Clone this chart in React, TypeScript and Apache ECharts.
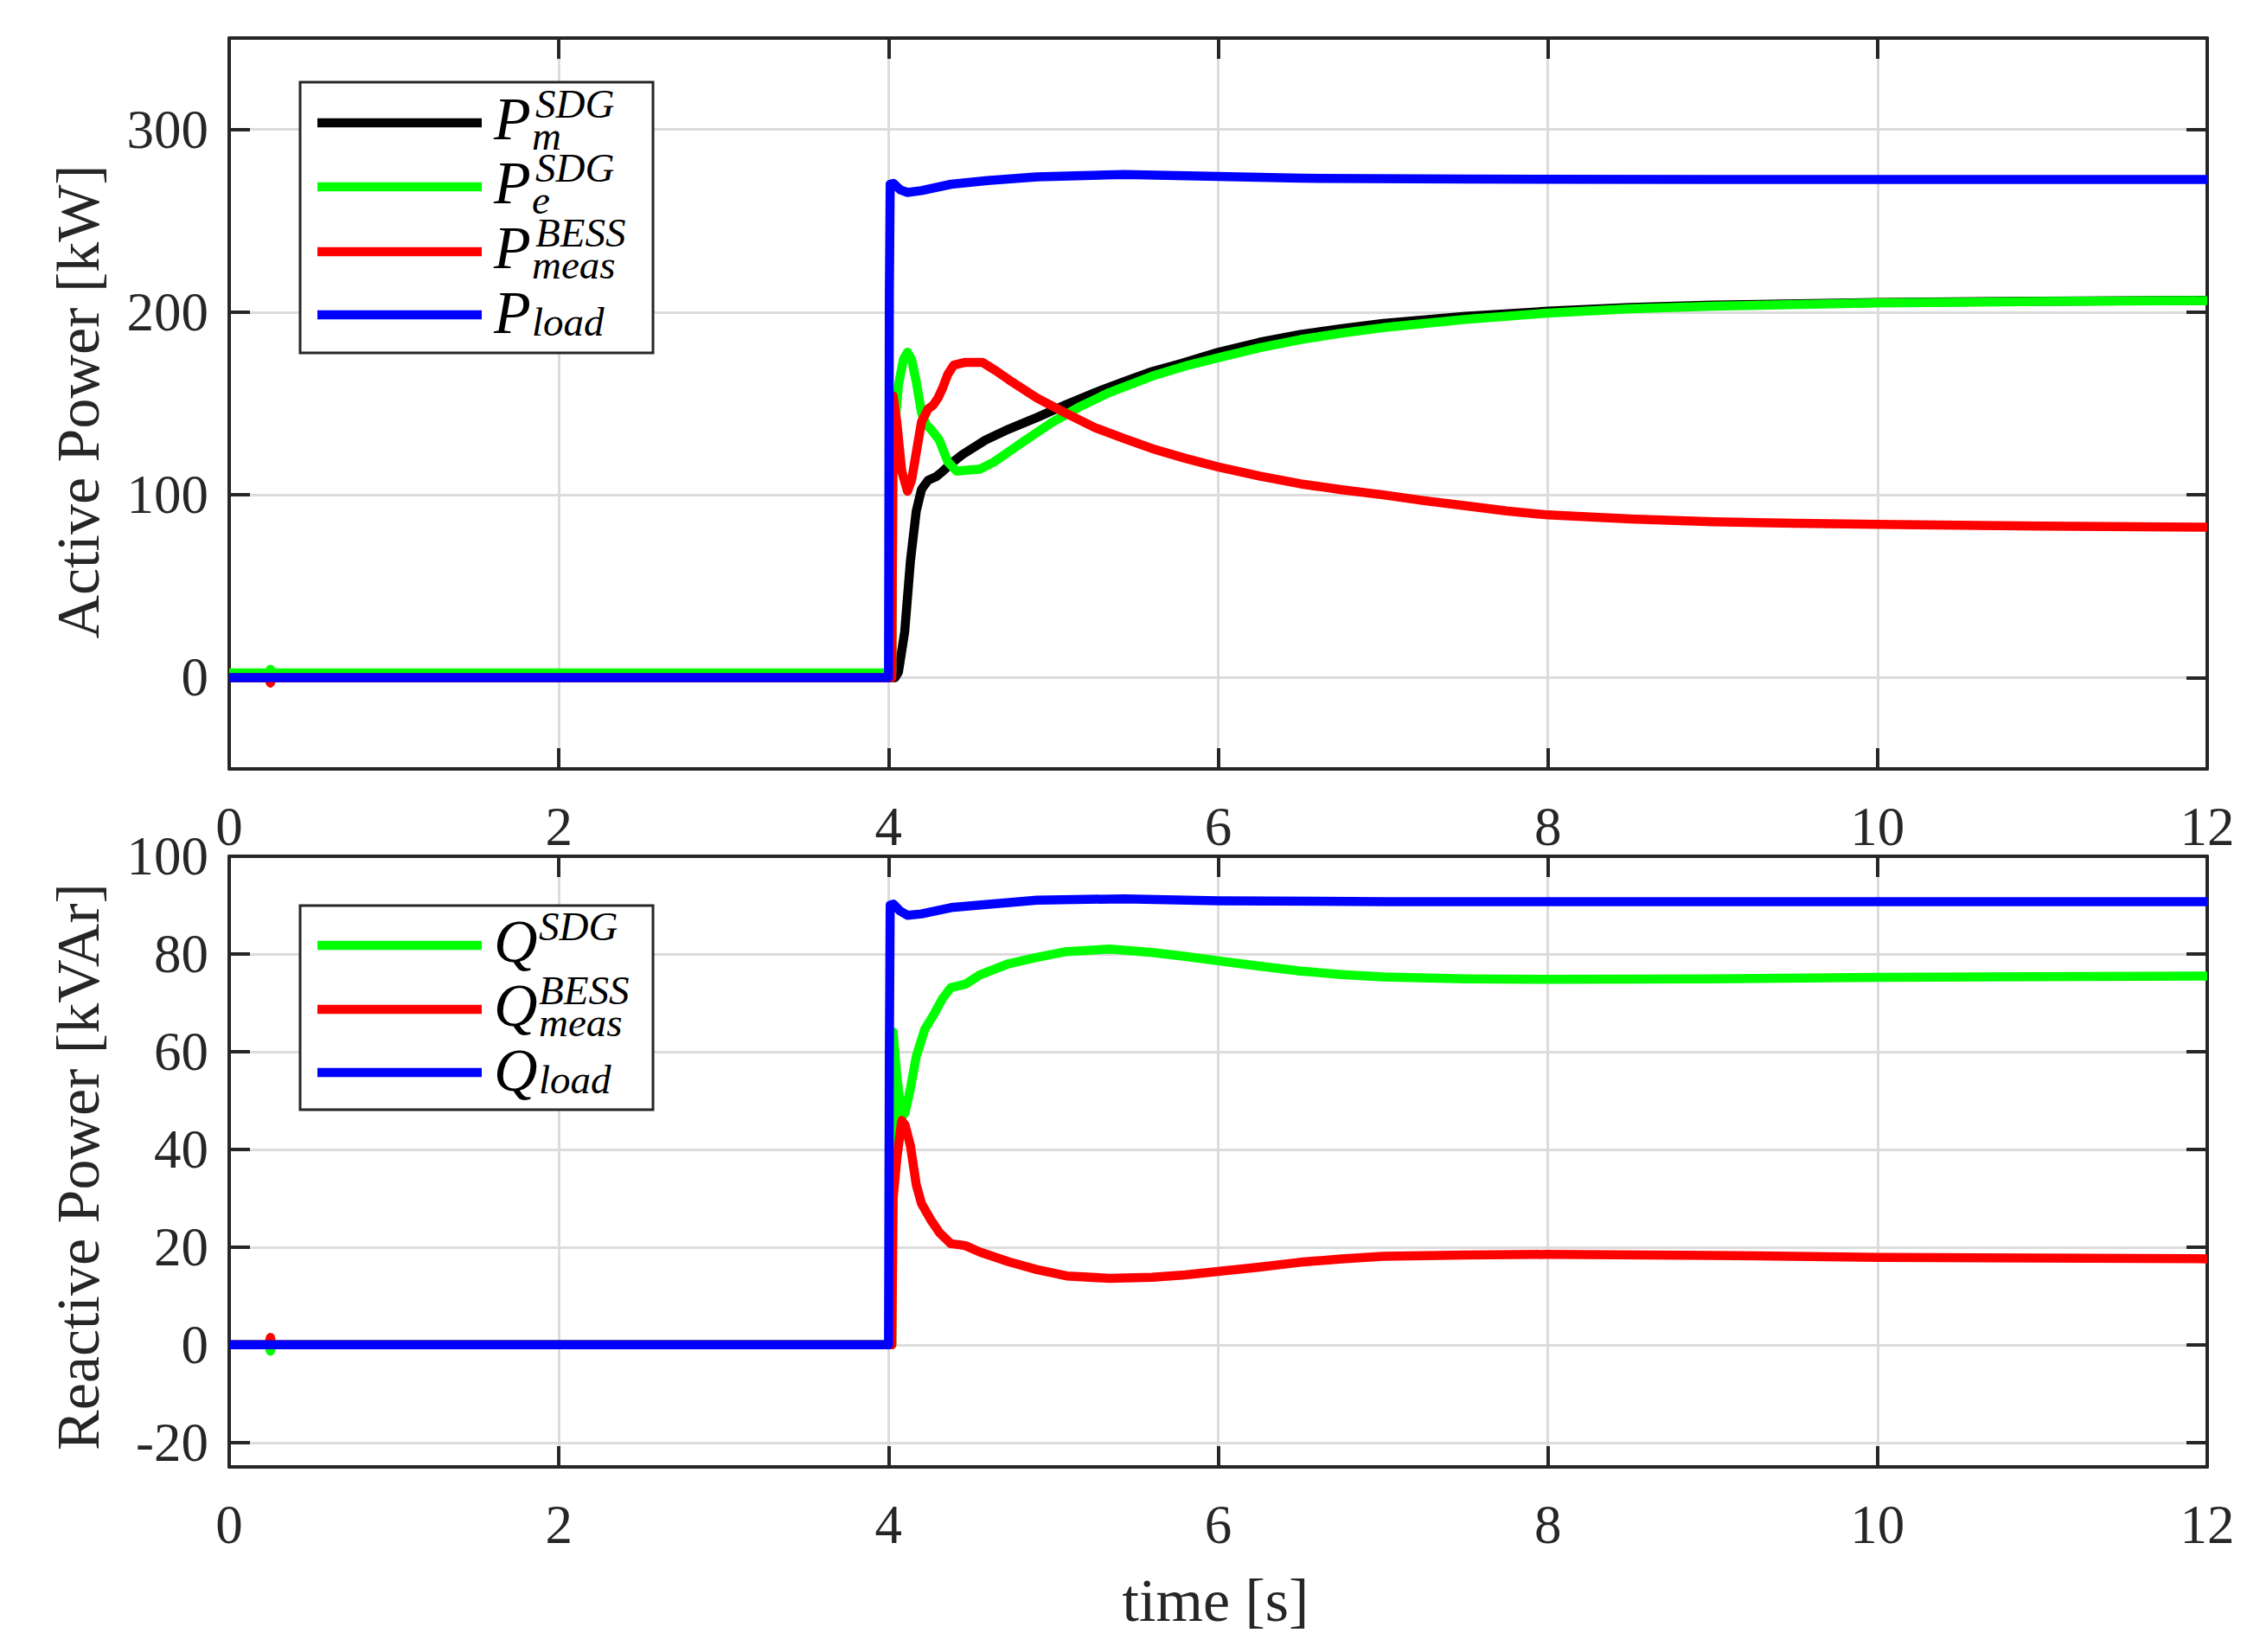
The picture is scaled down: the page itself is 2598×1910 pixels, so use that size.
import React, { useEffect, useRef } from "react";
import * as echarts from "echarts";

// ---------- data (time [s], value) ----------
const xTicks = [0, 2, 4, 6, 8, 10, 12];
const pTicks = [0, 100, 200, 300];
const qTicks = [-20, 0, 20, 40, 60, 80, 100];

const pMechSDG: [number, number][] = [
  [0, 0], [4.04, 0], [4.06, 3], [4.098, 25], [4.133, 64], [4.168, 91], [4.2, 103], [4.24, 108],
  [4.29, 110], [4.33, 113], [4.378, 117], [4.448, 122], [4.588, 130], [4.73, 136], [4.904, 142.5],
  [5.08, 149.5], [5.254, 156], [5.43, 162], [5.6, 167.5], [5.78, 172], [6.0, 178], [6.25, 183.5],
  [6.5, 187.8], [6.75, 191], [7.0, 193.8], [7.5, 197.7], [8.0, 200.5], [8.5, 202.5], [9.0, 203.8],
  [10.0, 205.3], [11.0, 206], [12.0, 206.5],
];
const pElecSDG: [number, number][] = [
  [0, 2.5], [0.24, 2.5], [0.25, 4.5], [0.26, 2.5], [4.02, 2.5], [4.028, 127], [4.06, 160], [4.09, 174],
  [4.115, 178], [4.14, 174], [4.168, 162], [4.2, 145], [4.23, 138], [4.256, 136], [4.308, 130],
  [4.36, 118], [4.413, 113], [4.48, 113.5], [4.553, 114], [4.64, 118], [4.816, 129], [4.99, 139.5],
  [5.166, 148.5], [5.34, 156], [5.6, 165], [5.8, 170.5], [6.0, 175], [6.25, 180.5], [6.5, 185],
  [6.75, 188.5], [7.0, 191.5], [7.5, 196], [8.0, 199.5], [8.5, 201.8], [9.0, 203.3], [10.0, 205],
  [11.0, 205.8], [12.0, 206.3],
];
const pMeasBESS: [number, number][] = [
  [0, 0], [0.24, 0], [0.25, -3], [0.26, 0], [4.02, 0], [4.028, 154], [4.05, 140], [4.08, 113],
  [4.115, 102], [4.14, 108], [4.168, 123], [4.2, 140], [4.24, 147], [4.27, 149], [4.3, 153],
  [4.326, 158], [4.36, 166], [4.396, 171], [4.466, 172.5], [4.57, 172.5], [4.65, 168], [4.73, 163],
  [4.9, 153], [5.08, 144.5], [5.254, 136.7], [5.43, 130.8], [5.6, 125.3], [5.8, 120], [6.0, 115.3],
  [6.25, 110.3], [6.5, 106], [6.75, 102.8], [7.0, 100], [7.25, 96.8], [7.5, 94], [7.75, 91.2],
  [8.0, 89], [8.5, 86.8], [9.0, 85.3], [9.5, 84.4], [10.0, 83.8], [11.0, 82.9], [12.0, 82.3],
];
const pLoad: [number, number][] = [
  [0, 0], [4.0, 0], [4.005, 210], [4.01, 270], [4.03, 270.5], [4.07, 267], [4.115, 265.5],
  [4.2, 266.5], [4.38, 270], [4.6, 272], [4.9, 274], [5.43, 275.3], [6.0, 274.3], [6.5, 273.3],
  [7.5, 272.8], [9.0, 272.6], [12.0, 272.6],
];

const qSDG: [number, number][] = [
  [0, 0], [0.24, 0], [0.25, -1.3], [0.26, 0], [4.02, 0], [4.028, 64], [4.05, 55], [4.08, 46.6],
  [4.1, 47.5], [4.133, 52.5], [4.168, 59], [4.22, 64.6], [4.273, 67.5], [4.326, 70.8], [4.378, 73.1],
  [4.466, 73.8], [4.553, 75.7], [4.728, 78], [4.9, 79.3], [5.08, 80.5], [5.34, 81], [5.6, 80.3],
  [5.8, 79.5], [6.0, 78.6], [6.25, 77.5], [6.5, 76.5], [6.75, 75.8], [7.0, 75.3], [7.5, 74.9],
  [8.0, 74.8], [9.0, 74.9], [10.0, 75.2], [12.0, 75.5],
];
const qMeasBESS: [number, number][] = [
  [0, 0], [0.24, 0], [0.25, 1.5], [0.26, 0], [4.02, 0], [4.028, 30], [4.05, 38], [4.08, 45.9],
  [4.1, 45], [4.133, 40.7], [4.168, 32.8], [4.2, 28.9], [4.256, 25.6], [4.308, 23], [4.378, 20.7],
  [4.466, 20.3], [4.553, 19], [4.728, 17], [4.9, 15.4], [5.08, 14.1], [5.34, 13.6], [5.6, 13.8],
  [5.8, 14.3], [6.0, 15], [6.25, 15.9], [6.5, 16.9], [6.75, 17.6], [7.0, 18.1], [7.5, 18.4],
  [8.0, 18.5], [9.0, 18.3], [10.0, 17.9], [12.0, 17.6],
];
const qLoad: [number, number][] = [
  [0, 0], [4.0, 0], [4.005, 60], [4.01, 90], [4.03, 90.2], [4.07, 88.8], [4.115, 87.9], [4.2, 88.2],
  [4.38, 89.5], [4.9, 91], [5.43, 91.3], [6.0, 90.9], [7.0, 90.7], [12.0, 90.7],
];

const topLegend = [
  { color: "#000000", base: "P", sup: "SDG", sub: "m" },
  { color: "#00ff00", base: "P", sup: "SDG", sub: "e" },
  { color: "#ff0000", base: "P", sup: "BESS", sub: "meas" },
  { color: "#0000ff", base: "P", sup: "", sub: "load" },
];
const bottomLegend = [
  { color: "#00ff00", base: "Q", sup: "SDG", sub: "" },
  { color: "#ff0000", base: "Q", sup: "BESS", sub: "meas" },
  { color: "#0000ff", base: "Q", sup: "", sub: "load" },
];

// ---------- styling ----------
const W = 2598;
const H = 1910;
const AX = "#262626";
const GRIDC = "#dcdcdc";
const FONT = '"Liberation Serif", "Times New Roman", serif';
const LW = 10.5;

const G0 = { left: 265, top: 44, width: 2287, height: 845 };
const G1 = { left: 265, top: 990, width: 2287, height: 706 };

function xAxisPair(gridIndex: number) {
  const common = {
    type: "value",
    gridIndex,
    min: 0,
    max: 12,
    interval: 2,
    axisLine: { show: true, onZero: false, lineStyle: { color: AX, width: 4 } },
    axisTick: { show: true, inside: true, length: 24, lineStyle: { color: AX, width: 4 }, customValues: xTicks },
  };
  return [
    {
      ...common,
      position: "bottom",
      axisLabel: { show: true, customValues: xTicks, margin: 35, color: AX, fontFamily: FONT, fontSize: 63 },
      splitLine: { show: true, lineStyle: { color: GRIDC, width: 3 } },
    },
    {
      ...common,
      position: "top",
      axisLabel: { show: false },
      splitLine: { show: false },
    },
  ];
}

function yAxisPair(gridIndex: number, min: number, max: number, ticks: number[]) {
  const common = {
    type: "value",
    gridIndex,
    min,
    max,
    axisLine: { show: true, onZero: false, lineStyle: { color: AX, width: 4 } },
    axisTick: { show: true, inside: true, length: 24, lineStyle: { color: AX, width: 4 }, customValues: ticks },
  };
  return [
    {
      ...common,
      position: "left",
      axisLabel: { show: true, customValues: ticks, margin: 24, color: AX, fontFamily: FONT, fontSize: 63 },
      splitLine: { show: true, lineStyle: { color: GRIDC, width: 3 } },
    },
    {
      ...common,
      position: "right",
      axisLabel: { show: false },
      splitLine: { show: false },
    },
  ];
}

function line(name: string, data: [number, number][], color: string, axisIdx: number) {
  return {
    type: "line",
    name,
    xAxisIndex: axisIdx,
    yAxisIndex: axisIdx,
    data,
    symbol: "none",
    showSymbol: false,
    smooth: false,
    clip: true,
    silent: true,
    lineStyle: { color, width: LW, join: "round", cap: "butt" },
    itemStyle: { color },
  };
}

type Row = { color: string; base: string; sup: string; sub: string };

function legendGraphics(box: { x: number; y: number; w: number; h: number }, rows: Row[], centers: number[]) {
  const els: any[] = [];
  els.push({
    type: "rect",
    z: 50,
    shape: { x: box.x, y: box.y, width: box.w, height: box.h },
    style: { fill: "#ffffff", stroke: AX, lineWidth: 3 },
  });
  rows.forEach((r, i) => {
    const c = centers[i];
    els.push({
      type: "line",
      z: 51,
      shape: { x1: box.x + 20, y1: c, x2: box.x + 210, y2: c },
      style: { stroke: r.color, lineWidth: 10.5 },
    });
    const baseDy = r.sup ? -5 : -3;
    els.push({
      type: "text",
      z: 52,
      x: box.x + 224,
      y: c + baseDy,
      style: {
        text: r.base,
        fill: "#000000",
        font: `italic 70px ${FONT}`,
        textAlign: "left",
        textVerticalAlign: "middle",
      },
    });
    const isQ = r.base === "Q";
    if (r.sup) {
      els.push({
        type: "text",
        z: 52,
        x: box.x + (isQ ? 276 : 272),
        y: c - 22,
        style: {
          text: r.sup,
          fill: "#000000",
          font: `italic 47px ${FONT}`,
          textAlign: "left",
          textVerticalAlign: "middle",
        },
      });
    }
    if (r.sub) {
      els.push({
        type: "text",
        z: 52,
        x: box.x + (isQ ? 276 : 268),
        y: c + (r.sup ? 15 : 8),
        style: {
          text: r.sub,
          fill: "#000000",
          font: `italic 47px ${FONT}`,
          textAlign: "left",
          textVerticalAlign: "middle",
        },
      });
    }
  });
  return els;
}

export default function App() {
  const ref = useRef<HTMLDivElement>(null);

  useEffect(() => {
    if (!ref.current) return;
    const chart = echarts.init(ref.current, undefined, { renderer: "svg", width: W, height: H });

    const graphic: any[] = [
      {
        type: "text",
        x: 90,
        y: G0.top + G0.height / 2 - 2,
        rotation: Math.PI / 2,
        style: {
          text: "Active Power [kW]",
          fill: AX,
          font: `70px ${FONT}`,
          textAlign: "center",
          textVerticalAlign: "middle",
        },
      },
      {
        type: "text",
        x: 90,
        y: G1.top + G1.height / 2 + 6,
        rotation: Math.PI / 2,
        style: {
          text: "Reactive Power [kVAr]",
          fill: AX,
          font: `70px ${FONT}`,
          textAlign: "center",
          textVerticalAlign: "middle",
        },
      },
      {
        type: "text",
        x: G1.left + G1.width / 2 - 3,
        y: 1850,
        style: {
          text: "time [s]",
          fill: AX,
          font: `70px ${FONT}`,
          textAlign: "center",
          textVerticalAlign: "middle",
        },
      },
      ...legendGraphics({ x: 347, y: 95, w: 408, h: 313 }, topLegend, [142, 216, 291, 364]),
      ...legendGraphics({ x: 347, y: 1047, w: 408, h: 236 }, bottomLegend, [1093, 1167, 1240]),
    ];

    chart.setOption({
      animation: false,
      backgroundColor: "#ffffff",
      textStyle: { fontFamily: FONT },
      grid: [
        { ...G0, containLabel: false },
        { ...G1, containLabel: false },
      ],
      xAxis: [...xAxisPair(0), ...xAxisPair(1)],
      yAxis: [...yAxisPair(0, -50, 350, pTicks), ...yAxisPair(1, -25, 100, qTicks)],
      series: [
        line("P_m^SDG", pMechSDG, "#000000", 0),
        line("P_e^SDG", pElecSDG, "#00ff00", 0),
        line("P_meas^BESS", pMeasBESS, "#ff0000", 0),
        line("P_load", pLoad, "#0000ff", 0),
        line("Q^SDG", qSDG, "#00ff00", 2),
        line("Q_meas^BESS", qMeasBESS, "#ff0000", 2),
        line("Q_load", qLoad, "#0000ff", 2),
      ],
      graphic,
    });

    return () => {
      chart.dispose();
    };
  }, []);

  return (
    <div
      ref={ref}
      style={{ position: "absolute", left: 0, top: 0, width: W, height: H, background: "#ffffff" }}
    />
  );
}
